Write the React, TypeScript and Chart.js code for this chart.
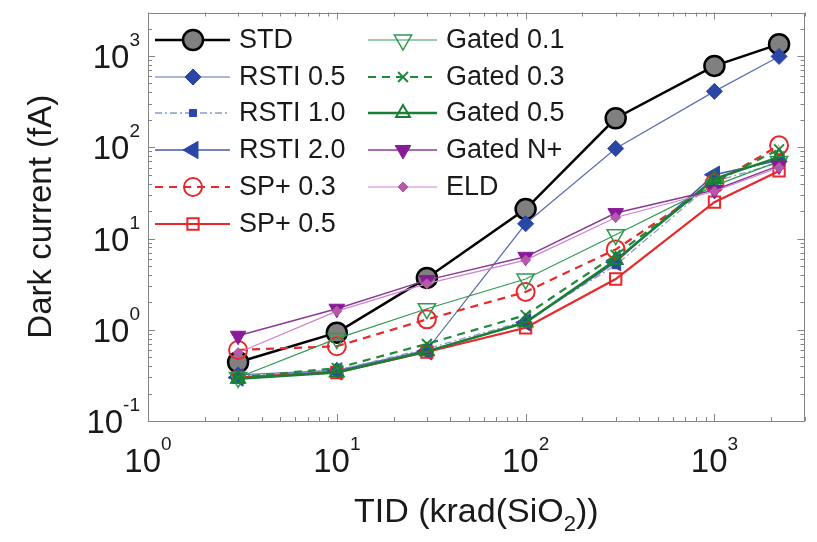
import React, { useEffect, useRef } from 'react';
import { Chart, registerables } from 'chart.js';
import { drawPoint } from 'chart.js/helpers';

Chart.register(...registerables);

// ---- data ----
const tidValues = [3, 10, 30, 100, 300, 1000, 2200];
const seriesLabels = [
  'STD', 'RSTI 0.5', 'RSTI 1.0', 'RSTI 2.0', 'SP+ 0.3', 'SP+ 0.5',
  'Gated 0.1', 'Gated 0.3', 'Gated 0.5', 'Gated N+', 'ELD',
];
const stdValues = [0.44, 0.93, 3.7, 21, 208, 780, 1350];
const rsti05Values = [0.32, 0.36, 0.6, 14.5, 97, 410, 990];
const rsti10Values = [0.31, 0.36, 0.62, 1.25, 5.1, 42, 68];
const rsti20Values = [0.3, 0.35, 0.58, 1.2, 5.5, 50, 72];
const sp03Values = [0.6, 0.66, 1.3, 2.6, 7.6, 40, 105];
const sp05Values = [0.3, 0.34, 0.57, 1.05, 3.6, 25, 55];
const gated01Values = [0.3, 0.8, 1.7, 3.6, 11, 38, 70];
const gated03Values = [0.3, 0.38, 0.7, 1.45, 6.6, 42, 95];
const gated05Values = [0.29, 0.34, 0.58, 1.2, 5.8, 45, 78];
const gatedNValues = [0.86, 1.7, 3.5, 6.3, 19, 34, 63];
const eldValues = [0.56, 1.6, 3.2, 5.8, 17, 33, 60];

const xTickExponents = [0, 1, 2, 3];
const yTickExponents = [-1, 0, 1, 2, 3];
const xAxisTitle = ['TID (krad(SiO', '2', '))'];
const yAxisTitle = 'Dark current (fA)';

const FONT = '"Liberation Sans", Arial, Helvetica, sans-serif';

type Style = {
  color: string; width: number; dash?: number[];
  point: string; rot?: number; r: number; bg: string; pb: string; pbw: number;
};

const styles: Style[] = [
  { color: '#000000', width: 2.5, point: 'circle', r: 10, bg: '#808080', pb: '#000000', pbw: 2.5 },
  { color: '#5b6db0', width: 1.2, point: 'rectRot', r: 8, bg: '#2a47a8', pb: '#2a47a8', pbw: 1 },
  { color: '#8a9ac8', width: 1.3, dash: [7, 3, 2, 3], point: 'rect', r: 5, bg: '#2a47a8', pb: '#2a47a8', pbw: 1 },
  { color: '#4658a8', width: 1.6, point: 'triangle', rot: -90, r: 10, bg: '#2a47a8', pb: '#2a47a8', pbw: 1 },
  { color: '#e8282a', width: 2.2, dash: [8, 6], point: 'circle', r: 9, bg: 'rgba(0,0,0,0)', pb: '#e8282a', pbw: 2 },
  { color: '#e8282a', width: 2.2, point: 'rect', r: 8, bg: 'rgba(0,0,0,0)', pb: '#e8282a', pbw: 2 },
  { color: '#2e9a52', width: 1.2, point: 'triangle', rot: 180, r: 10, bg: 'rgba(0,0,0,0)', pb: '#2e9a52', pbw: 1.5 },
  { color: '#1f8a3c', width: 2.2, dash: [8, 6], point: 'crossRot', r: 7, bg: '#1f8a3c', pb: '#1f8a3c', pbw: 2 },
  { color: '#1a7f34', width: 2.5, point: 'triangle', r: 8, bg: 'rgba(0,0,0,0)', pb: '#1a7f34', pbw: 2 },
  { color: '#8a3a95', width: 1.5, point: 'triangle', rot: 180, r: 9, bg: '#8a1a9a', pb: '#8a1a9a', pbw: 1 },
  { color: '#d080d0', width: 1.2, point: 'rectRot', r: 5, bg: '#b55aa8', pb: '#b55aa8', pbw: 1 },
];

const seriesValues = [
  stdValues, rsti05Values, rsti10Values, rsti20Values, sp03Values, sp05Values,
  gated01Values, gated03Values, gated05Values, gatedNValues, eldValues,
];

function drawPow(ctx: CanvasRenderingContext2D, exp: number, x: number, baseline: number, align: 'center' | 'right') {
  const baseFont = `33px ${FONT}`;
  const supFont = `19px ${FONT}`;
  ctx.font = baseFont;
  const wb = ctx.measureText('10').width;
  ctx.font = supFont;
  const es = String(exp);
  const we = ctx.measureText(es).width;
  const total = wb + we;
  const start = align === 'center' ? x - total / 2 : x - total;
  ctx.textAlign = 'left';
  ctx.textBaseline = 'alphabetic';
  ctx.font = baseFont;
  ctx.fillText('10', start, baseline);
  ctx.font = supFont;
  ctx.fillText(es, start + wb, baseline - 22);
}

const decorPlugin = {
  id: 'decor',
  beforeDatasetsDraw(chart: any) {
    const { ctx, chartArea: a, scales } = chart;
    const xs = scales.x;
    const ys = scales.y;
    ctx.save();
    ctx.strokeStyle = '#858585';
    ctx.lineWidth = 1;
    ctx.strokeRect(Math.round(a.left) + 0.5, Math.round(a.top) + 0.5,
      Math.round(a.right - a.left) - 1, Math.round(a.bottom - a.top) - 1);
    ctx.beginPath();
    for (const k of xTickExponents) {
      for (let m = 1; m <= 9; m++) {
        const v = m * Math.pow(10, k);
        if (v > xs.max) break;
        const px = Math.round(xs.getPixelForValue(v)) + 0.5;
        const len = m === 1 ? 7 : 4;
        ctx.moveTo(px, a.bottom); ctx.lineTo(px, a.bottom - len);
        ctx.moveTo(px, a.top); ctx.lineTo(px, a.top + len);
      }
    }
    for (const k of yTickExponents) {
      for (let m = 1; m <= 9; m++) {
        const v = m * Math.pow(10, k);
        if (v > ys.max) break;
        const py = Math.round(ys.getPixelForValue(v)) + 0.5;
        const len = m === 1 ? 7 : 4;
        ctx.moveTo(a.left, py); ctx.lineTo(a.left + len, py);
        ctx.moveTo(a.right, py); ctx.lineTo(a.right - len, py);
      }
    }
    ctx.stroke();

    // tick labels
    ctx.fillStyle = '#1a1a1a';
    for (const k of xTickExponents) {
      const px = xs.getPixelForValue(Math.pow(10, k));
      drawPow(ctx, k, px, a.bottom + 51, 'center');
    }
    for (const k of yTickExponents) {
      const py = ys.getPixelForValue(Math.pow(10, k));
      drawPow(ctx, k, a.left - 8, py + 12, 'right');
    }

    // axis titles
    ctx.font = `34px ${FONT}`;
    const subFont = `22px ${FONT}`;
    const w0 = ctx.measureText(xAxisTitle[0]).width;
    const w2 = ctx.measureText(xAxisTitle[2]).width;
    ctx.font = subFont;
    const w1 = ctx.measureText(xAxisTitle[1]).width;
    const cx = (a.left + a.right) / 2;
    let sx = cx - (w0 + w1 + w2) / 2;
    const base = 522;
    ctx.textAlign = 'left';
    ctx.textBaseline = 'alphabetic';
    ctx.font = `34px ${FONT}`;
    ctx.fillText(xAxisTitle[0], sx, base);
    sx += w0;
    ctx.font = subFont;
    ctx.fillText(xAxisTitle[1], sx, base + 9);
    sx += w1;
    ctx.font = `34px ${FONT}`;
    ctx.fillText(xAxisTitle[2], sx, base);

    ctx.save();
    ctx.translate(42, (a.top + a.bottom) / 2);
    ctx.rotate(-Math.PI / 2);
    ctx.textAlign = 'center';
    ctx.textBaseline = 'middle';
    ctx.font = `33px ${FONT}`;
    ctx.fillText(yAxisTitle, 0, 0);
    ctx.restore();
    ctx.restore();
  },
  afterDatasetsDraw(chart: any) {
    const { ctx } = chart;
    ctx.save();
    const rows = [40, 77, 113, 150, 187, 224];
    const cols = [
      { l0: 155, l1: 230, m: 193, t: 239 },
      { l0: 368, l1: 437, m: 403, t: 446 },
    ];
    chart.data.datasets.forEach((ds: any, i: number) => {
      const col = i < 6 ? cols[0] : cols[1];
      const y = rows[i < 6 ? i : i - 6];
      const s = styles[i];
      ctx.strokeStyle = s.color;
      ctx.lineWidth = s.width;
      ctx.setLineDash(s.dash || []);
      ctx.beginPath();
      ctx.moveTo(col.l0, y);
      ctx.lineTo(col.l1, y);
      ctx.stroke();
      ctx.setLineDash([]);
      ctx.fillStyle = s.bg;
      ctx.strokeStyle = s.pb;
      ctx.lineWidth = s.pbw;
      drawPoint(ctx, { pointStyle: s.point, rotation: s.rot || 0, radius: s.r, borderWidth: s.pbw } as any, col.m, y);
      ctx.fillStyle = '#1a1a1a';
      ctx.font = `27px ${FONT}`;
      ctx.textAlign = 'left';
      ctx.textBaseline = 'middle';
      ctx.fillText(ds.label, col.t, y + 1);
    });
    ctx.restore();
  },
};

export default function App() {
  const ref = useRef<HTMLCanvasElement>(null);
  useEffect(() => {
    if (!ref.current) return;
    const datasets = seriesLabels.map((label, i) => {
      const s = styles[i];
      return {
        label,
        data: tidValues.map((x, j) => ({ x, y: seriesValues[i][j] })),
        borderColor: s.color,
        borderWidth: s.width,
        borderDash: s.dash || [],
        pointStyle: s.point,
        pointRotation: s.rot || 0,
        pointRadius: s.r,
        pointBackgroundColor: s.bg,
        pointBorderColor: s.pb,
        pointBorderWidth: s.pbw,
        fill: false,
        tension: 0,
        order: 20 - i,
      };
    });
    const chart = new Chart(ref.current, {
      type: 'line',
      data: { datasets },
      options: {
        animation: false,
        responsive: false,
        layout: { padding: { left: 0, top: 8, right: 1, bottom: 0 } },
        plugins: { legend: { display: false }, tooltip: { enabled: false } },
        scales: {
          x: {
            type: 'logarithmic', min: 1, max: 3000,
            ticks: { display: false }, grid: { display: false }, border: { display: false },
            afterFit: (s: any) => { s.height = 121; },
          },
          y: {
            type: 'logarithmic', min: 0.1, max: 3000,
            ticks: { display: false }, grid: { display: false }, border: { display: false },
            afterFit: (s: any) => { s.width = 148; },
          },
        },
      },
      plugins: [decorPlugin],
    } as any);
    return () => chart.destroy();
  }, []);
  return (
    <canvas ref={ref} width={817} height={542}
      style={{ position: 'fixed', left: 0, top: 0, width: 817, height: 542, background: '#fff' }} />
  );
}
